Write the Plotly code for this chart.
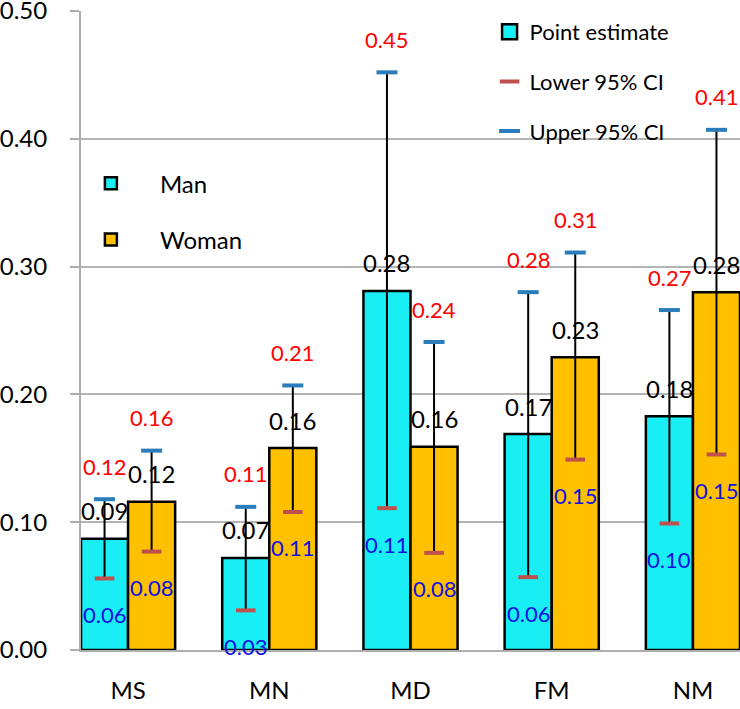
import plotly.graph_objects as go

categories = ["MS", "MN", "MD", "FM", "NM"]
man_point = [0.087, 0.072, 0.281, 0.169, 0.183]
woman_point = [0.116, 0.158, 0.159, 0.229, 0.280]
man_lower = [0.056, 0.031, 0.111, 0.057, 0.099]
woman_lower = [0.077, 0.108, 0.076, 0.149, 0.153]
man_upper = [0.118, 0.112, 0.452, 0.280, 0.266]
woman_upper = [0.156, 0.207, 0.241, 0.311, 0.407]
y_ticks = [0.0, 0.1, 0.2, 0.3, 0.4, 0.5]

FONT = "Lato"
CYAN = "#18EEF4"
GOLD = "#FFC000"
LOWER_C = "#C0504D"
UPPER_C = "#2A7DBA"
GAP = 1 / 3
OFF = (1 - GAP) / 4

xs = list(range(len(categories)))
x_man = [x - OFF for x in xs]
x_woman = [x + OFF for x in xs]

fig = go.Figure()

for name, pts, lo, up, col in [
    ("Man", man_point, man_lower, man_upper, CYAN),
    ("Woman", woman_point, woman_lower, woman_upper, GOLD),
]:
    fig.add_trace(go.Bar(
        x=xs, y=pts, name=name, legend="legend2", legendgroup=name,
        marker=dict(color=col, line=dict(color="black", width=2.5)),
        error_y=dict(type="data", symmetric=False,
                     array=[u - p for u, p in zip(up, pts)],
                     arrayminus=[p - l for p, l in zip(pts, lo)],
                     color="black", thickness=2, width=0),
    ))

fig.add_trace(go.Scatter(
    x=[None], y=[None], mode="markers", name="Point estimate",
    legend="legend", legendgroup="pe",
    marker=dict(symbol="square", size=15, color=CYAN, line=dict(color="black", width=2.5)),
))
fig.add_trace(go.Scatter(
    x=x_man + x_woman, y=man_lower + woman_lower, mode="markers",
    name="Lower 95% CI", legend="legend", legendgroup="lo",
    marker=dict(symbol="line-ew", size=14, line=dict(color=LOWER_C, width=4)),
))
fig.add_trace(go.Scatter(
    x=x_man + x_woman, y=man_upper + woman_upper, mode="markers",
    name="Upper 95% CI", legend="legend", legendgroup="up",
    marker=dict(symbol="line-ew", size=15, line=dict(color=UPPER_C, width=4)),
))

annotations = []
def add_labels(xpos, vals, color, shift, size):
    for x, v in zip(xpos, vals):
        annotations.append(dict(
            x=x, y=v, xref="x", yref="y", text=f"{v:.2f}", showarrow=False,
            yshift=shift, font=dict(family=FONT, size=size, color=color),
        ))

add_labels(x_man, man_upper, "#FF0000", 33, 22)
add_labels(x_woman, woman_upper, "#FF0000", 33, 22)
add_labels(x_man, man_point, "black", 28, 24)
add_labels(x_woman, woman_point, "black", 28, 24)
add_labels(x_man, man_lower, "#1010E0", -36, 22)
add_labels(x_woman, woman_lower, "#1010E0", -36, 22)

fig.update_layout(
    width=740, height=709,
    margin=dict(l=81, r=0, t=11, b=59, autoexpand=False),
    paper_bgcolor="white", plot_bgcolor="white",
    barmode="group", bargap=GAP, bargroupgap=0,
    font=dict(family=FONT, size=24, color="black"),
    annotations=annotations,
    legend=dict(x=0.62, y=1.0, xanchor="left", yanchor="top",
                font=dict(family=FONT, size=22, color="black"),
                traceorder="grouped", tracegroupgap=18, bgcolor="rgba(0,0,0,0)"),
    legend2=dict(x=-0.029, y=0.765, xanchor="left", yanchor="top",
                 font=dict(family=FONT, size=24, color="black"),
                 traceorder="grouped", tracegroupgap=22, itemwidth=88,
                 bgcolor="rgba(0,0,0,0)"),
    showlegend=True,
)
fig.update_xaxes(
    range=[-GAP, len(categories) - 1 + GAP], tickvals=xs, ticktext=categories,
    showline=True, linecolor="#ADADAD", linewidth=2, showgrid=False, zeroline=False,
    ticks="", ticklabelstandoff=18, tickfont=dict(family=FONT, size=24),
    automargin=False,
)
fig.update_yaxes(
    range=[0, 0.5], tickvals=y_ticks, tickformat=".2f",
    showline=True, linecolor="#ADADAD", linewidth=2,
    showgrid=True, gridcolor="#B4B4B4", gridwidth=2, zeroline=False,
    ticks="outside", ticklen=9, tickcolor="#ADADAD", tickwidth=2,
    ticklabelstandoff=18, ticklabeloverflow="allow",
    tickfont=dict(family=FONT, size=24),
    automargin=False,
)

# the page's default 8px body margin would push the figure off the window
fig.write_html("out.html", config={"displayModeBar": False},
               post_script="document.body.style.margin='0px';")
